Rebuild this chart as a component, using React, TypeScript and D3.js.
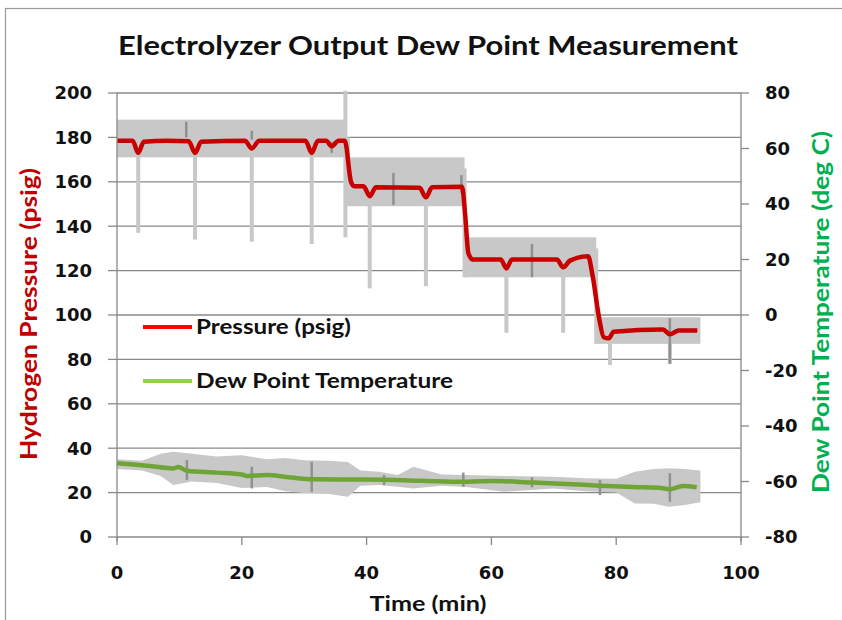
import React from 'react'
import * as d3 from 'd3'

// smoothed pressure trace [time min, psig]
const pressureLine: [number, number][] = [
  [0, 178.5], [2.5, 178.5], [3.4, 173], [4.3, 178], [8, 178.5], [11.5, 178.3], [12.5, 173], [13.5, 178],
  [20.5, 178.5], [21.6, 175], [22.8, 178.5], [30.2, 178.5], [31.2, 173], [32.2, 178.5], [33.5, 178.5],
  [34.4, 176], [35.5, 178.5], [36.5, 178.5], [37.5, 160], [38, 158], [39.5, 158], [40.5, 153.5],
  [41.5, 157.5], [48.5, 157.3], [49.5, 153], [50.5, 157.5], [55.3, 157.8], [55.8, 145], [56.3, 128],
  [57, 125], [61.5, 125], [62.4, 121], [63.3, 125], [70.5, 125], [71.5, 121.5], [72.6, 124.5],
  [75.5, 126.5], [76.2, 118], [77.3, 98], [78, 90], [78.8, 89.5], [79.6, 92.5], [87.5, 93.5],
  [88.6, 91.3], [90, 93], [93, 93],
]

// raw pressure scatter: level bands [start, end, low, high]
const pressureBands: [number, number, number, number][] = [
  [0, 36.8, 171, 188], [37.2, 55.7, 149, 171], [55.6, 76.8, 117, 135], [76.9, 93.5, 87, 99],
]
// raw pressure spikes [time, low, high]
const pressureSpikes: [number, number, number][] = [
  [3.4, 137, 175], [12.5, 134, 175], [21.6, 133, 175], [31.2, 132, 175], [36.6, 135, 201],
  [40.5, 112, 155], [49.5, 113, 155], [62.4, 92, 120], [71.5, 92, 120], [79, 77.5, 90], [88.6, 78, 90],
  [37.0, 149, 180], [55.7, 117, 166], [76.8, 87, 130],
]
// darker overlaps in raw pressure [time, low, high]
const pressureMarks: [number, number, number][] = [
  [11.1, 180, 187], [21.6, 179, 183], [34.4, 173, 178], [44.3, 149.5, 164], [55.2, 155, 163],
  [66.5, 117, 132], [88.6, 78, 98.6],
]

// dew point trace [time min, deg C]
const dewLine: [number, number][] = [
  [0, -53.4], [5.3, -54.4], [9, -55.3], [9.8, -54.8], [11.2, -56.1], [16, -56.8], [20.2, -57.6],
  [20.8, -58], [24, -57.7], [28, -58.6], [31.4, -59.2], [40, -59.3], [48.6, -59.7], [55.5, -60.1],
  [60.3, -59.8], [66.7, -60.4], [72, -60.9], [77.4, -61.5], [82.7, -62], [87.5, -62.4], [88.6, -62.8],
  [90.7, -61.6], [92.9, -62.1],
]
// raw dew point envelope [time, high, low]
const dewBand: [number, number, number][] = [
  [0, -52, -55.5], [4, -52.5, -56], [7, -50, -58], [9, -49.3, -61.3], [12, -50, -60], [16, -51, -60.5],
  [20, -50.5, -62.3], [24, -52, -62], [27, -51.5, -63.5], [30, -52.3, -64.1], [34, -52.5, -64.5],
  [37, -53, -65.5], [39, -56, -61.5], [42, -56.5, -61.3], [45, -57.7, -61.9], [47.5, -54.7, -62.5],
  [52, -57.5, -61.5], [56, -57.7, -62], [62, -58, -63.7], [70, -58.3, -62.5], [75, -58.8, -63.5],
  [80, -59, -64], [83, -56.5, -67.9], [86, -55.5, -68], [88.5, -55.2, -69.1], [91, -55.5, -68.5],
  [93.5, -56, -67.5],
]
const dewMarks: [number, number, number][] = [
  [11.2, -52.3, -59.5], [21.6, -54.7, -62.5], [31.2, -52.9, -63.7], [42.8, -57.7, -61.3],
  [55.5, -56.8, -61.9], [66.5, -58.5, -62.1], [77.4, -59.5, -64.9], [88.6, -57, -67.3],
]

const xTicks = [0, 20, 40, 60, 80, 100]
const leftTicks = [0, 20, 40, 60, 80, 100, 120, 140, 160, 180, 200]
const rightTicks = [-80, -60, -40, -20, 0, 20, 40, 60, 80]

const W = 842
const H = 620
const FONT = 'Lato, "Open Sans", sans-serif'
const NUM_FONT = '"DejaVu Sans", sans-serif'
const AXIS = '#888888'
const GRAY = '#c8c8c8'

export default function App() {
  const x = d3.scaleLinear().domain([0, 100]).range([117, 741])
  const yL = d3.scaleLinear().domain([0, 200]).range([537, 93])
  const yR = d3.scaleLinear().domain([-80, 80]).range([537, 93])

  const pLine = d3.line<[number, number]>().x(d => x(d[0])).y(d => yL(d[1])).curve(d3.curveMonotoneX)
  const dLine = d3.line<[number, number]>().x(d => x(d[0])).y(d => yR(d[1])).curve(d3.curveMonotoneX)
  const dArea = d3.area<[number, number, number]>()
    .x(d => x(d[0])).y0(d => yR(d[2])).y1(d => yR(d[1])).curve(d3.curveLinear)

  const [x0, x1] = x.range()

  return (
    <svg width={W} height={H} style={{ position: 'absolute', left: 0, top: 0, background: '#fff' }}
      fontFamily={FONT}>
      <rect x={5.5} y={8.5} width={W} height={H} fill="none" stroke="#999" strokeWidth={1.2} />

      <text x={428} y={55} textAnchor="middle" fontSize={26} fontWeight="bold" fill="#111"
        textLength={620} lengthAdjust="spacingAndGlyphs">
        Electrolyzer Output Dew Point Measurement
      </text>

      {/* gridlines */}
      {leftTicks.map(t => (
        <line key={'g' + t} x1={x0} x2={x1} y1={yL(t)} y2={yL(t)} stroke={AXIS} strokeWidth={1.3} />
      ))}

      {/* raw data in gray */}
      {pressureBands.map((b, i) => (
        <rect key={'pb' + i} x={x(b[0])} width={x(b[1]) - x(b[0])} y={yL(b[3])} height={yL(b[2]) - yL(b[3])}
          fill={GRAY} />
      ))}
      {pressureSpikes.map((s, i) => (
        <line key={'ps' + i} x1={x(s[0])} x2={x(s[0])} y1={yL(s[1])} y2={yL(s[2])} stroke={GRAY} strokeWidth={4} />
      ))}
      <path d={dArea(dewBand) ?? ''} fill={GRAY} />
      {pressureMarks.map((s, i) => (
        <line key={'pm' + i} x1={x(s[0])} x2={x(s[0])} y1={yL(s[1])} y2={yL(s[2])} stroke="#909090" strokeWidth={2.5} />
      ))}
      {dewMarks.map((s, i) => (
        <line key={'dm' + i} x1={x(s[0])} x2={x(s[0])} y1={yR(s[1])} y2={yR(s[2])} stroke="#909090" strokeWidth={2.5} />
      ))}

      <path d={pLine(pressureLine) ?? ''} fill="none" stroke="#c80000" strokeWidth={4.5} strokeLinejoin="round" />
      <path d={dLine(dewLine) ?? ''} fill="none" stroke="#6ea536" strokeWidth={4.5} strokeLinejoin="round" />

      {/* axes */}
      <line x1={x0} x2={x0} y1={93} y2={541} stroke={AXIS} strokeWidth={1.3} />
      <line x1={x1} x2={x1} y1={93} y2={541} stroke={AXIS} strokeWidth={1.3} />
      {leftTicks.map(t => (
        <g key={'lt' + t}>
          <line x1={x0 - 9} x2={x0} y1={yL(t)} y2={yL(t)} stroke={AXIS} strokeWidth={1.3} />
          <text x={92} y={yL(t)} dy="0.36em" textAnchor="end" fontSize={18} fontWeight="bold"
            fontFamily={NUM_FONT} fill="#111">{t}</text>
        </g>
      ))}
      {rightTicks.map(t => (
        <g key={'rt' + t}>
          <line x1={x1} x2={x1 + 8} y1={yR(t)} y2={yR(t)} stroke={AXIS} strokeWidth={1.3} />
          <text x={765} y={yR(t)} dy="0.36em" textAnchor="start" fontSize={18} fontWeight="bold"
            fontFamily={NUM_FONT} fill="#111">{t}</text>
        </g>
      ))}
      {xTicks.map(t => (
        <g key={'xt' + t}>
          <line x1={x(t)} x2={x(t)} y1={537} y2={545} stroke={AXIS} strokeWidth={1.3} />
          <text x={x(t)} y={579} textAnchor="middle" fontSize={18} fontWeight="bold"
            fontFamily={NUM_FONT} fill="#111">{t}</text>
        </g>
      ))}

      <text x={428} y={611} textAnchor="middle" fontSize={21} fontWeight="bold" fill="#111"
        textLength={117} lengthAdjust="spacingAndGlyphs">Time (min)</text>
      <text transform="translate(37,314) rotate(-90)" textAnchor="middle" fontSize={22} fontWeight="bold"
        fill="#c00000" textLength={292} lengthAdjust="spacingAndGlyphs">Hydrogen Pressure (psig)</text>
      <text transform="translate(829,312) rotate(-90)" textAnchor="middle" fontSize={22} fontWeight="bold"
        fill="#00b050" textLength={362} lengthAdjust="spacingAndGlyphs">Dew Point Temperature (deg C)</text>

      {/* legend */}
      <line x1={143} x2={192} y1={327} y2={327} stroke="#ff0000" strokeWidth={4} />
      <text x={196} y={327} dy="0.35em" fontSize={20} fontWeight="bold" fill="#111"
        textLength={155} lengthAdjust="spacingAndGlyphs">Pressure (psig)</text>
      <line x1={143} x2={192} y1={381} y2={381} stroke="#92d050" strokeWidth={4} />
      <text x={196} y={381} dy="0.35em" fontSize={20} fontWeight="bold" fill="#111"
        textLength={257} lengthAdjust="spacingAndGlyphs">Dew Point Temperature</text>
    </svg>
  )
}
